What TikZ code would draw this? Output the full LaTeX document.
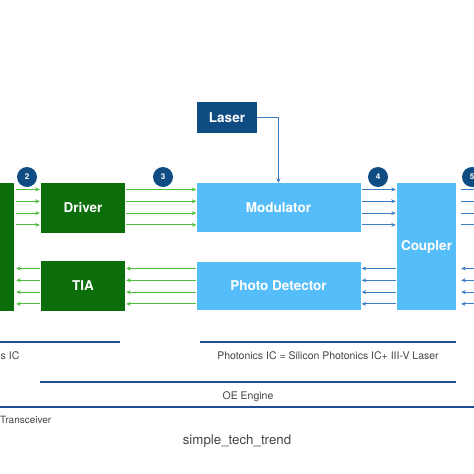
\documentclass[tikz,border=0pt]{standalone}
\usepackage{fontspec}
\setmainfont{TeX Gyre Heros}
\usepackage{xcolor}
\usepackage{tikz}
\usetikzlibrary{arrows.meta,positioning,calc}
\definecolor{oenavy}{HTML}{0F4C81}
\definecolor{oegreen}{HTML}{0B6E0B}
\definecolor{oelime}{HTML}{4CC03A}
\definecolor{oesky}{HTML}{56BDFB}
\definecolor{oeblue}{HTML}{3B7DC4}
\definecolor{oebar}{HTML}{1B4F8F}
\definecolor{oemuted}{HTML}{444444}

\begin{document}
\begin{tikzpicture}[
  x=1pt, y=-1pt,
  box/.style={minimum width=84pt, minimum height=50pt, inner sep=0pt, align=center, text=white, font=\bfseries\fontsize{13.5}{16}\selectfont},
  ebox/.style={box, fill=oegreen},
  pbox/.style={box, fill=oesky},
  lsr/.style={box, fill=oenavy, minimum width=60pt, minimum height=31pt},
  badge/.style={circle, fill=oenavy, text=white, minimum size=20pt, inner sep=0pt, font=\bfseries\fontsize{8}{9}\selectfont},
  elink/.style={-{Stealth[length=4.5pt,width=4pt]}, oelime, line width=1pt},
  plink/.style={-{Stealth[length=4.5pt,width=4pt]}, oeblue, line width=1pt},
  span/.style={oebar, line width=2pt},
  lbl/.style={font=\fontsize{10.5}{12}\selectfont, text=oemuted, inner sep=0pt},
  >=Stealth
]
\useasboundingbox (0,0) rectangle (474,474);

% electronics side
\node[ebox, minimum width=44pt, minimum height=128pt] (eic) at (-8,247) {};
\node[ebox] (drv) at (83,208) {Driver};
\node[ebox] (tia) at (83,286) {TIA};

% photonics side
\node[lsr] (lsr) at (227,117.5) {Laser};
\node[pbox, minimum width=164pt, minimum height=49pt] (mod) at (278.5,207.5) {Modulator};
\node[pbox, minimum width=164pt, minimum height=48pt] (pd) at (278.5,286) {Photo Detector};
\node[pbox, minimum width=59pt, minimum height=127pt] (cpl) at (426.5,246.5) {Coupler};
\coordinate (nxt) at (490,247);

% step badges
\node[badge] (b2) at (27,177) {2};
\node[badge] (b3) at (163,177) {3};
\node[badge] (b4) at (378,177) {4};
\node[badge] (b5) at (472,177) {5};

% transmit lanes
\foreach \y in {189.5,201.3,213.1,224.9} {
  \draw[elink, shorten <=2pt, shorten >=1pt] (eic.east |- 0,\y) -- (drv.west |- 0,\y);
  \draw[elink, shorten <=1pt] (drv.east |- 0,\y) -- (mod.west |- 0,\y);
  \draw[plink, shorten <=1pt, shorten >=1pt] (mod.east |- 0,\y) -- (cpl.west |- 0,\y);
  \draw[plink, shorten <=5pt] (cpl.east |- 0,\y) -- (nxt |- 0,\y);
}
% receive lanes
\foreach \y in {268.5,280.3,292.1,303.9} {
  \draw[elink, shorten <=1pt, shorten >=2pt] (tia.west |- 0,\y) -- (eic.east |- 0,\y);
  \draw[elink, shorten >=1pt] (pd.west |- 0,\y) -- (tia.east |- 0,\y);
  \draw[plink, shorten <=1pt, shorten >=1pt] (cpl.west |- 0,\y) -- (pd.east |- 0,\y);
  \draw[plink, shorten >=5pt] (nxt |- 0,\y) -- (cpl.east |- 0,\y);
}
\draw[plink] (lsr.east) -| (mod.north);

% spans
\draw[span] (-10,342) -- (120,342);
\node[lbl, anchor=west] (elbl) at (0.5,356) {s IC};
\draw[span] (200,342) -- (456,342);
\node[lbl] (plbl) at (328,356) {Photonics IC = Silicon Photonics IC+ III-V Laser};
\draw[span] (40,381.5) -- (456,381.5);
\node[lbl] (oelbl) at (248,397) {OE Engine};
\draw[span] (-10,407) -- (484,407);
\node[lbl, anchor=west, font=\fontsize{10}{12}\selectfont] (trlbl) at (0,420) {Transceiver};

\node[font=\fontsize{13.3}{15}\selectfont, text=oemuted] (title) at (237,441) {simple\_tech\_trend};

\end{tikzpicture}
\end{document}
